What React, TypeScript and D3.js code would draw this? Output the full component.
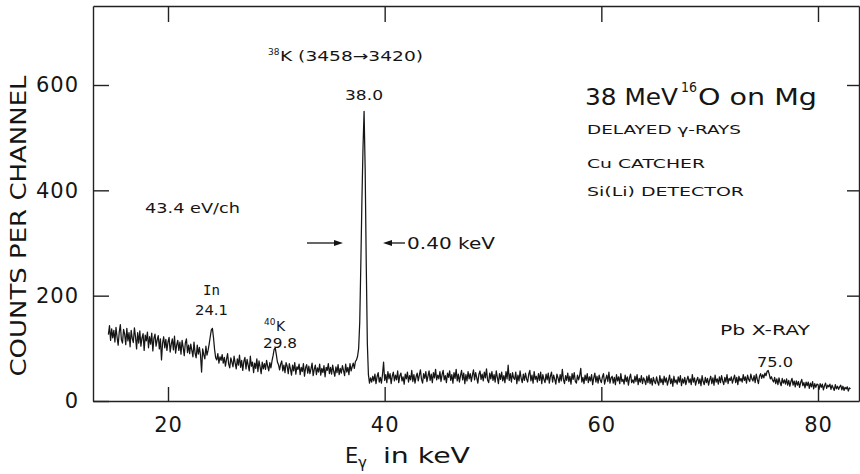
import React, { useEffect, useRef } from 'react';
import * as d3 from 'd3';

// spectrum, 0.1 keV bins starting at 14.5 keV
const E_START = 14.5;
const E_STEP = 0.1;

// 14.5 - 24.9 keV (In line at 24.1)
const countsA = [
  126, 143, 115, 137, 120,
  134, 112, 140, 121, 106, 131, 145, 116, 110, 136,
  127, 107, 138, 114, 130, 103, 134, 119, 111, 139,
  122, 99, 130, 110, 133, 104, 120, 128, 96, 125,
  114, 131, 101, 122, 108, 129, 95, 119, 127, 104,
  116, 124, 99, 118, 78, 110, 122, 101, 117, 96,
  112, 121, 93, 108, 118, 97, 123, 91, 106, 115,
  96, 112, 89, 115, 102, 86, 110, 118, 92, 106,
  90, 108, 96, 84, 112, 91, 82, 106, 89, 102,
  87, 55, 99, 88, 80, 104, 87, 96, 108, 122,
  135, 138, 120, 98, 82, 78, 90, 72, 84, 77,
];
// 25.0 - 34.9 keV (40K line at 29.8)
const countsB = [
  88, 72, 83, 66, 79, 90, 70, 63, 82, 74,
  65, 85, 72, 61, 80, 68, 87, 64, 77, 58,
  75, 83, 61, 79, 68, 57, 85, 66, 74, 54,
  72, 62, 80, 56, 76, 65, 52, 74, 61, 71,
  60, 77, 66, 57, 73, 63, 76, 86, 98, 101,
  88, 74, 69, 59, 70, 76, 57, 68, 54, 73,
  66, 52, 71, 61, 49, 68, 57, 73, 51, 65,
  60, 70, 50, 64, 56, 71, 47, 63, 69, 53,
  66, 52, 61, 72, 48, 60, 68, 50, 63, 55,
  70, 49, 62, 54, 67, 46, 64, 58, 71, 52,
];
// 35.0 - 44.9 keV (38K line at 38.0)
const countsC = [
  64, 51, 68, 56, 47, 65, 54, 69, 50, 62,
  53, 67, 58, 48, 70, 55, 64, 50, 71, 57,
  65, 72, 62, 75, 78, 85, 100, 150, 260, 380,
  480, 550, 440, 260, 110, 50, 34, 44, 36, 47,
  38, 51, 33, 46, 54, 36, 45, 34, 50, 74,
  39, 50, 35, 56, 42, 52, 33, 47, 55, 38,
  49, 40, 57, 35, 48, 53, 38, 46, 32, 51,
  42, 55, 36, 48, 40, 58, 37, 50, 34, 46,
  53, 38, 49, 59, 41, 34, 52, 43, 56, 37,
  47, 57, 39, 51, 35, 54, 44, 60, 40, 49,
];
// 45.0 - 54.9 keV
const countsD = [
  42, 56, 37, 50, 58, 40, 48, 35, 53, 45,
  57, 39, 50, 34, 54, 43, 60, 38, 51, 36,
  48, 58, 40, 53, 33, 50, 38, 56, 42, 52,
  37, 49, 59, 40, 54, 44, 34, 51, 57, 41,
  51, 38, 55, 44, 61, 40, 35, 53, 42, 56,
  39, 50, 36, 57, 45, 33, 52, 41, 55, 38,
  48, 35, 56, 42, 68, 39, 52, 36, 54, 44,
  41, 55, 33, 49, 38, 57, 43, 35, 51, 39,
  53, 42, 36, 51, 58, 38, 49, 34, 56, 41,
  47, 36, 52, 39, 55, 33, 50, 41, 35, 51,
];
// 55.0 - 64.9 keV
const countsE = [
  40, 53, 34, 47, 55, 36, 49, 41, 32, 51,
  44, 35, 50, 38, 60, 41, 33, 48, 39, 53,
  37, 47, 32, 52, 41, 54, 37, 34, 49, 40,
  48, 62, 36, 45, 33, 49, 39, 52, 35, 46,
  38, 50, 31, 44, 53, 36, 47, 34, 49, 40,
  35, 46, 52, 32, 41, 49, 37, 55, 34, 44,
  47, 34, 45, 31, 50, 38, 46, 33, 52, 37,
  41, 32, 49, 37, 46, 30, 44, 51, 35, 40,
  34, 47, 37, 50, 31, 43, 36, 48, 33, 44,
  39, 31, 47, 35, 49, 33, 43, 30, 45, 37,
];
// 65.0 - 74.9 keV
const countsF = [
  33, 46, 36, 30, 48, 35, 42, 31, 47, 36,
  44, 30, 39, 49, 33, 42, 28, 47, 35, 40,
  32, 46, 36, 48, 29, 42, 34, 45, 31, 40,
  47, 35, 42, 31, 50, 36, 44, 30, 39, 45,
  33, 42, 29, 48, 37, 31, 45, 35, 43, 30,
  40, 47, 33, 44, 30, 49, 36, 42, 32, 46,
  35, 48, 38, 31, 45, 36, 50, 33, 43, 39,
  46, 34, 42, 49, 35, 45, 31, 47, 38, 43,
  36, 50, 39, 46, 34, 49, 41, 37, 51, 42,
  38, 48, 35, 51, 41, 33, 47, 52, 43, 50,
];
// 75.0 - 83.0 keV (Pb X-ray at 75.0)
const countsG = [
  44, 53, 48, 56, 58, 51, 42, 46, 40, 36,
  45, 33, 42, 31, 44, 35, 29, 43, 34, 40,
  32, 42, 30, 39, 28, 37, 43, 30, 38, 27,
  38, 30, 37, 26, 35, 41, 29, 35, 25, 36,
  29, 36, 24, 34, 27, 37, 23, 33, 26, 32,
  31, 22, 33, 26, 32, 21, 29, 34, 24, 30,
  27, 32, 22, 30, 25, 20, 31, 23, 28, 22,
  27, 30, 21, 28, 20, 26, 23, 27, 19, 25,
  23,
];

const counts = [...countsA, ...countsB, ...countsC, ...countsD, ...countsE, ...countsF, ...countsG];

const xTicks = [20, 40, 60, 80];
const yTicks = [0, 200, 400, 600];
const yTicksRight = [200, 400, 600];

const FONT = 'DejaVu Sans';
const INK = '#151515';

const App: React.FC = () => {
  const svgRef = useRef<SVGSVGElement | null>(null);

  useEffect(() => {
    if (!svgRef.current) return;
    const width = 860;
    const height = 474;
    const margin = { top: 6, right: 1, bottom: 73, left: 93 };
    const innerWidth = width - margin.left - margin.right;
    const innerHeight = height - margin.top - margin.bottom;

    const svg = d3.select(svgRef.current);
    svg.selectAll('*').remove();
    svg.attr('width', width).attr('height', height);

    svg.append('rect').attr('width', width).attr('height', height).attr('fill', '#fff');

    const g = svg.append('g').attr('transform', `translate(${margin.left},${margin.top})`);

    // 20 keV -> 168px, 80 keV -> 818px
    const xScale = d3.scaleLinear().domain([13.077, 83.785]).range([0, innerWidth]);
    const yScale = d3.scaleLinear().domain([0, 750]).range([innerHeight, 0]);

    const styleAxis = (ax: d3.Selection<SVGGElement, unknown, null, undefined>) => {
      ax.attr('font-family', FONT).attr('font-size', 21).attr('color', INK);
      ax.selectAll('line, path').attr('stroke', '#222').attr('stroke-width', 1.4);
      ax.selectAll('text').attr('letter-spacing', 1);
    };

    // frame axes
    g.append('g')
      .call(d3.axisLeft(yScale).tickValues(yTicks).tickSizeInner(-16).tickSizeOuter(0).tickPadding(14))
      .call(styleAxis);
    g.append('g')
      .attr('transform', `translate(0,${innerHeight})`)
      .call(d3.axisBottom(xScale).tickValues(xTicks).tickSizeInner(-14).tickSizeOuter(0).tickPadding(16))
      .call(styleAxis);
    g.append('g')
      .call(d3.axisTop(xScale).tickValues(xTicks).tickSizeInner(-16).tickSizeOuter(0).tickFormat(() => ''))
      .call(styleAxis);
    g.append('g')
      .attr('transform', `translate(${innerWidth},0)`)
      .call(d3.axisRight(yScale).tickValues(yTicksRight).tickSizeInner(-12).tickSizeOuter(0).tickFormat(() => ''))
      .call(styleAxis);

    // spectrum
    const line = d3.line<number>()
      .x((_, i) => xScale(E_START + i * E_STEP))
      .y(d => yScale(d));
    g.append('path')
      .datum(counts)
      .attr('fill', 'none')
      .attr('stroke', INK)
      .attr('stroke-width', 1.25)
      .attr('stroke-linejoin', 'round')
      .attr('d', line);

    // text helper (page coordinates)
    const txt = (x: number, y: number, s: string, size: number, len?: number, family = FONT) => {
      const t = svg.append('text')
        .attr('x', x)
        .attr('y', y)
        .attr('font-family', family)
        .attr('font-size', size)
        .attr('fill', INK)
        .text(s);
      if (len) t.attr('textLength', len).attr('lengthAdjust', 'spacingAndGlyphs');
      return t;
    };

    // axis titles
    svg.append('text')
      .attr('transform', 'translate(26,226) rotate(-90)')
      .attr('text-anchor', 'middle')
      .attr('font-family', FONT)
      .attr('font-size', 21)
      .attr('fill', INK)
      .attr('textLength', 301)
      .attr('lengthAdjust', 'spacingAndGlyphs')
      .text('COUNTS PER CHANNEL');
    txt(345, 463, 'E', 21);
    txt(358, 468, 'γ', 15);
    txt(383, 463, 'in keV', 21, 87);

    // title block
    txt(585, 105, '38 MeV', 23, 93);
    txt(681, 92, '16', 14, 16);
    txt(698, 105, 'O on Mg', 23, 119);
    txt(587, 133.5, 'DELAYED γ-RAYS', 13, 154);
    txt(587, 168, 'Cu CATCHER', 13, 118);
    txt(587, 196, 'Si(Li) DETECTOR', 13, 157);

    // peak annotations
    txt(268, 55, '38', 9);
    txt(280, 61, 'K (3458→3420)', 14, 143);
    txt(345, 100, '38.0', 14, 38);
    txt(145, 213, '43.4  eV/ch', 14, 95);
    txt(203, 295, 'In', 14, 17, 'DejaVu Sans Mono');
    txt(195, 315, '24.1', 14, 33);
    txt(264, 325, '40', 9);
    txt(276, 331, 'K', 14);
    txt(263, 348, '29.8', 14, 34);
    txt(720, 335, 'Pb  X-RAY', 14, 90);
    txt(757, 367, '75.0', 14, 36);

    // resolution arrows
    const arrow = (x1: number, x2: number, y: number) => {
      const dir = Math.sign(x2 - x1);
      svg.append('line')
        .attr('x1', x1).attr('y1', y).attr('x2', x2 - dir * 6).attr('y2', y)
        .attr('stroke', INK).attr('stroke-width', 1.3);
      svg.append('path')
        .attr('d', `M${x2},${y}L${x2 - dir * 9},${y - 3}L${x2 - dir * 9},${y + 3}Z`)
        .attr('fill', INK);
    };
    arrow(307, 343, 243);
    arrow(405, 383, 243);
    txt(407, 249, '0.40 keV', 15, 88);
  }, []);

  return (
    <svg ref={svgRef} style={{ position: 'absolute', left: 0, top: 0, display: 'block' }} />
  );
};

export default App;
